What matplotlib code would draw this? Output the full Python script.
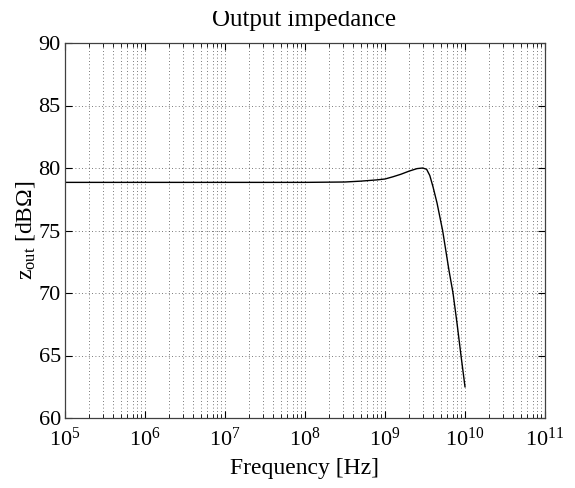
import matplotlib

matplotlib.use("Agg")
import matplotlib.pyplot as plt  # noqa: E402
from matplotlib.patches import Rectangle  # noqa: E402
from matplotlib.ticker import LogLocator, NullFormatter  # noqa: E402

plt.rcParams["font.family"] = ["Liberation Serif", "DejaVu Serif"]
plt.rcParams["mathtext.fontset"] = "custom"
plt.rcParams["mathtext.rm"] = "Liberation Serif"
plt.rcParams["mathtext.it"] = "Liberation Serif:italic"

freq_hz = [1e5, 1e8, 3.16e8, 5.01e8, 7.94e8, 1.0e9, 1.26e9, 1.58e9, 2.0e9,
           2.51e9, 2.95e9, 3.31e9, 3.63e9, 3.98e9, 4.47e9, 5.25e9, 6.31e9,
           7.08e9, 7.94e9, 8.91e9, 1.0e10]
z_out_db = [78.85, 78.85, 78.88, 78.95, 79.05, 79.12, 79.3, 79.5, 79.75,
            79.95, 80.0, 79.9, 79.4, 78.5, 77.2, 75.0, 71.8,
            70.0, 67.6, 65.0, 62.5]

x_ticks = [1e5, 1e6, 1e7, 1e8, 1e9, 1e10, 1e11]
y_ticks = [60, 65, 70, 75, 80, 85, 90]

fig = plt.figure(figsize=(5.75, 4.88), dpi=100)
ax = fig.add_axes((65 / 575, 70 / 488, 480 / 575, 375 / 488))

ax.semilogx(freq_hz, z_out_db, color="black", linewidth=1.0)

ax.set_xlim(x_ticks[0], x_ticks[-1])
ax.set_ylim(y_ticks[0], y_ticks[-1])
ax.set_xticks(x_ticks)
ax.set_yticks(y_ticks)
ax.xaxis.set_minor_locator(LogLocator(base=10, subs=range(2, 10), numticks=20))
ax.xaxis.set_minor_formatter(NullFormatter())

dots = dict(color="0.3", linestyle=(0, (1, 3)), linewidth=0.6)
ax.grid(True, which="major", axis="both", **dots)
ax.grid(True, which="minor", axis="x", **dots)

ax.tick_params(which="both", direction="in", top=True, right=True, labelsize=16)
ax.tick_params(axis="x", which="major", pad=7)
ax.tick_params(axis="y", which="major", pad=3)
ax.tick_params(which="major", length=5)
ax.tick_params(which="minor", length=3)
for s in ax.spines.values():
    s.set_linewidth(0.9)
    s.set_color("0.25")

ax.set_xlabel("Frequency [Hz]", fontsize=17, labelpad=5)
ax.set_ylabel(r"z$_{\rm out}$ [dB$\Omega$]", fontsize=17, labelpad=1)
fig.text(304 / 575, 1 - 26 / 488, "Output impedance", ha="center", va="baseline", fontsize=18)
# the top strip of the reference title is cut off
fig.patches.append(Rectangle((0, 1 - 11 / 488), 1, 11 / 488, transform=fig.transFigure,
                             facecolor="white", edgecolor="none", zorder=10))

fig.savefig("out.png", dpi=100)
